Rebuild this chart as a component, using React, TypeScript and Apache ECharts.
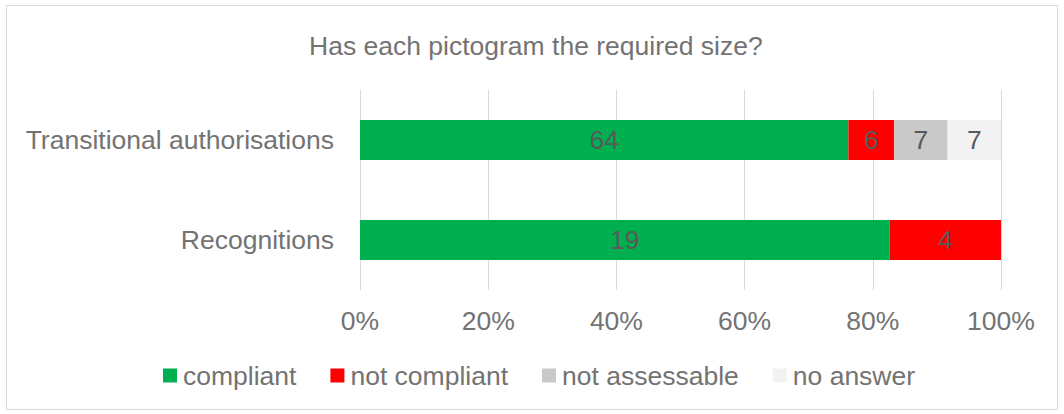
import React, { useEffect, useRef } from "react";
import * as echarts from "echarts";

const categories = ["Recognitions", "Transitional authorisations"];
const seriesNames = ["compliant", "not compliant", "not assessable", "no answer"];
const compliant = [19, 64];
const notCompliant = [4, 6];
const notAssessable = [0, 7];
const noAnswer = [0, 7];
const colors = ["#00b050", "#ff0000", "#c9c9c9", "#f2f2f2"];
const xTicks = ["0%", "20%", "40%", "60%", "80%", "100%"];

const FONT = 'Arial, "Liberation Sans", sans-serif';
const FS = 26.5;
const TXT = "#737373";

export default function App() {
  const ref = useRef<HTMLDivElement>(null);
  useEffect(() => {
    document.body.style.margin = "0";
    const chart = echarts.init(ref.current!, null, { renderer: "svg" });
    const raw = [compliant, notCompliant, notAssessable, noAnswer];
    const totals = categories.map((_, i) => raw.reduce((s, arr) => s + arr[i], 0));
    const series = raw.map((arr, k) => ({
      name: seriesNames[k],
      type: "bar",
      stack: "total",
      barWidth: 40,
      itemStyle: { color: colors[k] },
      label: {
        show: true,
        position: "inside",
        color: "#595959",
        fontSize: FS,
        fontFamily: FONT,
        formatter: (p: any) => (arr[p.dataIndex] > 0 ? String(arr[p.dataIndex]) : ""),
      },
      data: arr.map((v, i) => (v / totals[i]) * 100),
    }));
    chart.setOption({
      animation: false,
      backgroundColor: "#ffffff",
      title: {
        text: "Has each pictogram the required size?",
        left: 304,
        top: 27,
        textStyle: { color: TXT, fontSize: FS, fontWeight: "normal", fontFamily: FONT },
      },
      legend: {
        top: 357,
        left: 158,
        itemWidth: 14,
        itemHeight: 14,
        itemGap: 34,
        icon: "rect",
        textStyle: { color: TXT, fontSize: FS, fontFamily: FONT, padding: [0, 0, 0, 1] },
        data: seriesNames,
      },
      grid: { left: 360, right: 63, top: 90, bottom: 124, containLabel: false },
      xAxis: {
        type: "value",
        min: 0,
        max: 100,
        interval: 20,
        axisLine: { show: false },
        axisTick: { show: false },
        splitLine: { show: true, lineStyle: { color: "#d9d9d9", width: 1 } },
        axisLabel: {
          color: TXT,
          fontSize: FS,
          fontFamily: FONT,
          margin: 17,
          formatter: (v: number) => xTicks[Math.round(v / 20)],
        },
      },
      yAxis: {
        type: "category",
        data: categories,
        axisLine: { show: true, lineStyle: { color: "#d9d9d9" } },
        axisTick: { show: false },
        axisLabel: { color: TXT, fontSize: FS, fontFamily: FONT, margin: 26 },
      },
      graphic: [
        {
          type: "rect",
          shape: { x: 6.5, y: 5.5, width: 1051, height: 404 },
          style: { fill: "none", stroke: "#d9d9d9", lineWidth: 1 },
          silent: true,
        },
      ],
      series,
    });
    return () => chart.dispose();
  }, []);
  return <div ref={ref} style={{ width: 1064, height: 414 }} />;
}
